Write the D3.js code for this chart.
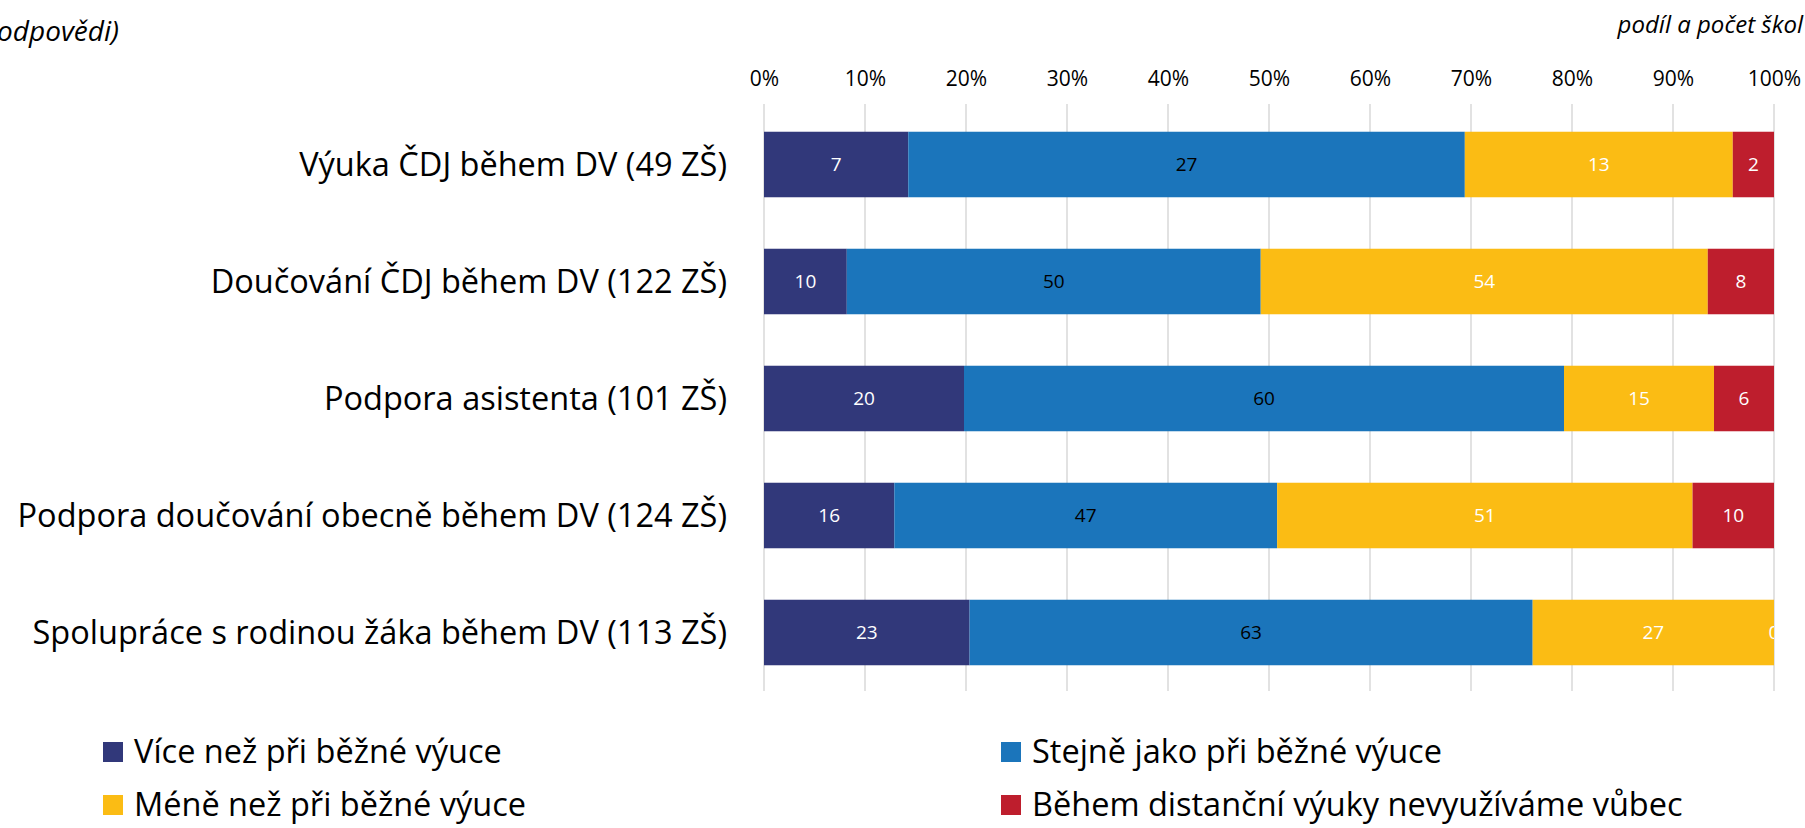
<!DOCTYPE html>
<html>
<head>
<meta charset="utf-8">
<script src="https://cdn.jsdelivr.net/npm/d3@7"></script>
<style>
  body { margin: 0; background: #fff; }
  svg { display: block; font-family: "Open Sans", sans-serif; }
</style>
</head>
<body>
<svg></svg>
<script>
const width = 1805, height = 828;

// Data
const categories = [
    "Výuka ČDJ během DV (49 ZŠ)",
    "Doučování ČDJ během DV (122 ZŠ)",
    "Podpora asistenta (101 ZŠ)",
    "Podpora doučování obecně během DV (124 ZŠ)",
    "Spolupráce s rodinou žáka během DV (113 ZŠ)"
];
const seriesNames = [
    "Více než při běžné výuce",
    "Stejně jako při běžné výuce",
    "Méně než při běžné výuce",
    "Během distanční výuky nevyužíváme vůbec"
];
const moreValues = [7, 10, 20, 16, 23];
const sameValues = [27, 50, 60, 47, 63];
const lessValues = [13, 54, 15, 51, 27];
const noneValues = [2, 8, 6, 10, 0];
const tickValues = [0, 0.1, 0.2, 0.3, 0.4, 0.5, 0.6, 0.7, 0.8, 0.9, 1];

const colors = ["#31387a", "#1b75bb", "#fbbc14", "#be1e2d"];
const labelColors = ["#fff", "#000", "#fff", "#fff"];

const margin = {top: 106, right: 31, bottom: 137, left: 764};

const svg = d3.select("svg")
    .attr("width", width)
    .attr("height", height);

const rows = categories.map((c, i) => {
    const vals = [moreValues[i], sameValues[i], lessValues[i], noneValues[i]];
    const total = d3.sum(vals);
    let acc = 0;
    return {
        cat: c,
        segs: vals.map((v, k) => {
            const s = {cat: c, k, v, x0: acc / total, x1: (acc + v) / total};
            acc += v;
            return s;
        })
    };
});

const x = d3.scaleLinear()
    .domain([0, 1])
    .range([margin.left, width - margin.right]);

const y = d3.scaleBand()
    .domain(categories)
    .range([margin.top, height - margin.bottom])
    .paddingInner(0.44)
    .paddingOuter(0.22);

// gridlines
svg.append("g")
    .selectAll("line")
    .data(tickValues)
    .join("line")
    .attr("x1", d => x(d))
    .attr("x2", d => x(d))
    .attr("y1", margin.top - 2)
    .attr("y2", height - margin.bottom)
    .attr("stroke", "#d9d9d9")
    .attr("stroke-width", 1.5);

// top axis labels
const axis = svg.append("g")
    .attr("transform", `translate(0,${margin.top - 20})`)
    .call(d3.axisTop(x).tickValues(tickValues).tickFormat(d3.format(".0%")).tickSize(0).tickPadding(0));
axis.select(".domain").remove();
axis.selectAll("text")
    .attr("font-family", "Open Sans, sans-serif")
    .attr("font-size", 21)
    .attr("fill", "#000");

// category labels
svg.append("g")
    .selectAll("text")
    .data(categories)
    .join("text")
    .attr("x", margin.left - 37)
    .attr("y", d => y(d) + y.bandwidth() / 2)
    .attr("dy", "0.35em")
    .attr("text-anchor", "end")
    .attr("font-size", 32.5)
    .attr("fill", "#000")
    .text(d => d);

svg.append("clipPath")
    .attr("id", "plot-clip")
    .append("rect")
    .attr("x", x(0))
    .attr("y", 0)
    .attr("width", x(1) - x(0))
    .attr("height", height);

// bars
const row = svg.append("g")
    .selectAll("g")
    .data(rows)
    .join("g");

row.selectAll("rect")
    .data(d => d.segs)
    .join("rect")
    .attr("x", d => x(d.x0))
    .attr("y", d => y(d.cat))
    .attr("width", d => x(d.x1) - x(d.x0))
    .attr("height", y.bandwidth())
    .attr("fill", d => colors[d.k]);

row.append("g")
    .attr("clip-path", "url(#plot-clip)")
    .selectAll("text")
    .data(d => d.segs)
    .join("text")
    .attr("x", d => (x(d.x0) + x(d.x1)) / 2)
    .attr("y", d => y(d.cat) + y.bandwidth() / 2)
    .attr("dy", "0.35em")
    .attr("text-anchor", "middle")
    .attr("font-size", 19)
    .attr("fill", d => labelColors[d.k])
    .text(d => d.v);

// notes
svg.append("text")
    .attr("x", width - 2)
    .attr("y", 33)
    .attr("text-anchor", "end")
    .attr("font-size", 24)
    .attr("font-style", "italic")
    .text("podíl a počet škol");

svg.append("text")
    .attr("x", 119)
    .attr("y", 41)
    .attr("text-anchor", "end")
    .attr("font-size", 28)
    .attr("font-style", "italic")
    .text("(odpovědi)");

// legend
const legendPos = [[103, 752], [1001, 752], [103, 805], [1001, 805]];
const legend = svg.append("g")
    .selectAll("g")
    .data(seriesNames)
    .join("g")
    .attr("transform", (d, i) => `translate(${legendPos[i][0]},${legendPos[i][1]})`);

legend.append("rect")
    .attr("x", 0)
    .attr("y", -10)
    .attr("width", 20)
    .attr("height", 20)
    .attr("fill", (d, i) => colors[i]);

legend.append("text")
    .attr("x", 31)
    .attr("y", 0)
    .attr("dy", "0.35em")
    .attr("font-size", 32.5)
    .attr("fill", "#000")
    .text(d => d);
</script>
</body>
</html>
